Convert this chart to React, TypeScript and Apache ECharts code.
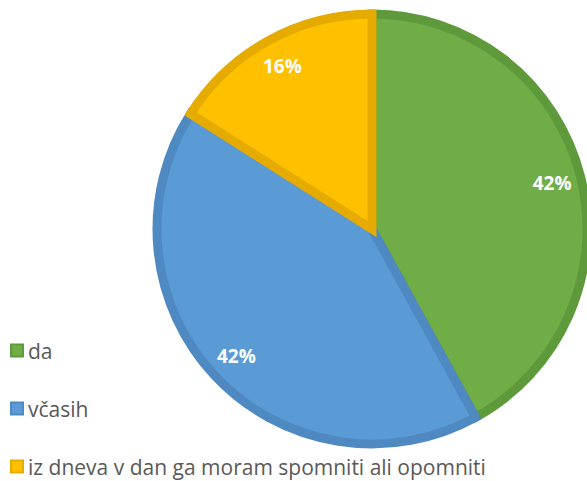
import React, { useEffect, useRef } from "react";
import * as echarts from "echarts";

const categories = ["da", "včasih", "iz dneva v dan ga moram spomniti ali opomniti"];
const values = [42, 42, 16];
const fillColors = ["#70AD47", "#5B9BD5", "#FFC000"];
const borderColors = ["#5E9A3B", "#4E89C2", "#E5AB00"];

export default function App() {
  const ref = useRef<HTMLDivElement>(null);
  useEffect(() => {
    if (!ref.current) return;
    const chart = echarts.init(ref.current, null, { renderer: "svg" });
    const font = "'Open Sans', 'Noto Sans', sans-serif";
    chart.setOption({
      animation: false,
      backgroundColor: "#ffffff",
      legend: {
        orient: "vertical",
        left: 10,
        top: 340,
        padding: 0,
        height: 141,
        itemWidth: 12,
        itemHeight: 12,
        itemGap: 37,
        icon: "rect",
        data: categories,
        textStyle: { color: "#595959", fontSize: 21, fontFamily: font },
      },
      series: [
        {
          type: "pie",
          center: [372, 229],
          radius: 215,
          startAngle: 90,
          clockwise: true,
          silent: true,
          label: { show: false },
          labelLine: { show: false },
          data: categories.map((n, i) => ({
            name: n,
            value: values[i],
            itemStyle: {
              color: fillColors[i],
              borderColor: borderColors[i],
              borderWidth: 9,
              borderJoin: "miter",
            },
          })),
        },
        {
          type: "pie",
          center: [372, 229],
          radius: [150, 216],
          startAngle: 90,
          clockwise: true,
          silent: true,
          label: {
            show: true,
            position: "inside",
            formatter: (p: any) => Math.round(p.percent) + "%",
            color: "#ffffff",
            fontWeight: "bold",
            fontSize: 19,
            fontFamily: font,
          },
          labelLine: { show: false },
          itemStyle: { color: "rgba(0,0,0,0)" },
          data: categories.map((n, i) => ({ name: n, value: values[i] })),
        },
      ],
    });
    return () => chart.dispose();
  }, []);
  return (
    <div
      ref={ref}
      style={{ position: "fixed", left: 0, top: 0, width: 587, height: 481 }}
    />
  );
}
